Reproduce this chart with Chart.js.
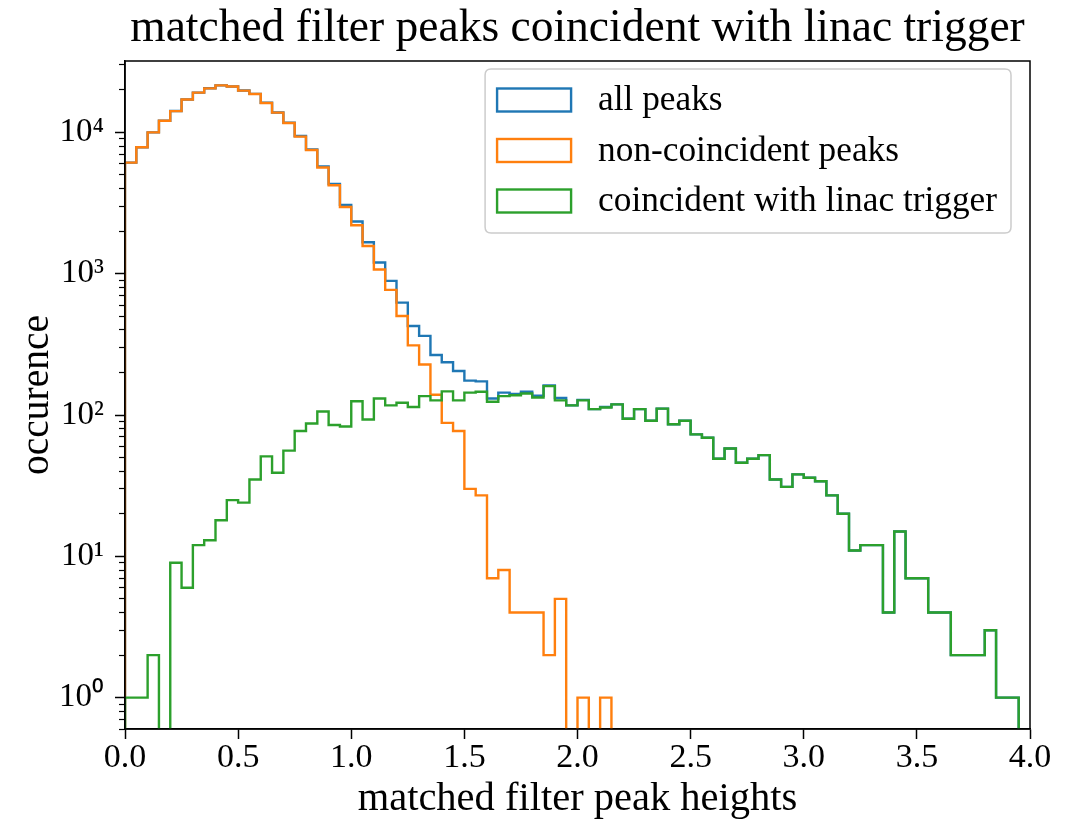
<!DOCTYPE html>
<html>
<head>
<meta charset="utf-8">
<script src="https://cdn.jsdelivr.net/npm/chart.js@4.4.1/dist/chart.umd.min.js"></script>
<style>
html,body{margin:0;padding:0;background:#ffffff;}
#wrap{width:1079px;height:825px;position:relative;}
</style>
</head>
<body>
<div id="wrap"><canvas id="c" width="1079" height="825"></canvas></div>
<script>
// ---- data ----
const binEdges = [0.00,0.05,0.10,0.15,0.20,0.25,0.30,0.35,0.40,0.45,0.50,0.55,0.60,0.65,0.70,0.75,0.80,0.85,0.90,0.95,
  1.00,1.05,1.10,1.15,1.20,1.25,1.30,1.35,1.40,1.45,1.50,1.55,1.60,1.65,1.70,1.75,1.80,1.85,1.90,1.95,
  2.00,2.05,2.10,2.15,2.20,2.25,2.30,2.35,2.40,2.45,2.50,2.55,2.60,2.65,2.70,2.75,2.80,2.85,2.90,2.95,
  3.00,3.05,3.10,3.15,3.20,3.25,3.30,3.35,3.40,3.45,3.50,3.55,3.60,3.65,3.70,3.75,3.80,3.85,3.90,3.95,4.00];

const allPeaks = [6111,7851,10002,12100,14159,17106,19112,20513,21518,21125,
  19774,18735,16201,13839,11706,9417,7587,5746,4315,3070,
  2340,1670,1200,890,624,426,363,266,236,205,
  175,173,131,144,141,146,137,162,132,117,
  128,110,114,119,94,110,91,111,86,91,
  73,69,49,58,46,49,52,35,31,38,
  36,34,27,20,11,12,12,4,15,7,
  7,4,4,2,2,2,3,1,1,0];

const nonCoincident = [6110,7850,10000,12100,14150,17100,19100,20500,21500,21100,
  19750,18700,16150,13800,11650,9340,7500,5640,4230,2965,
  2200,1570,1070,768,502,311,228,139,88,77,
  30,27,7,8,4,4,4,2,5,0,
  1,0,1,0,0,0,0,0,0,0,
  0,0,0,0,0,0,0,0,0,0,
  0,0,0,0,0,0,0,0,0,0,
  0,0,0,0,0,0,0,0,0,0];

const coincidentLinac = [1,1,2,0,9,6,12,13,18,25,
  24,35,51,39,56,77,87,106,85,83,
  125,93,131,117,122,114,136,127,147,127,
  144,146,124,136,138,142,133,160,127,117,
  127,110,113,119,94,110,91,111,86,91,
  73,69,49,58,46,49,52,35,31,38,
  36,34,27,20,11,12,12,4,15,7,
  7,4,4,2,2,2,3,1,1,0];

const seriesLabels = ['all peaks', 'non-coincident peaks', 'coincident with linac trigger'];
const xTickValues = [0.0,0.5,1.0,1.5,2.0,2.5,3.0,3.5,4.0];
const yTickValues = [0.6,0.7,0.8,0.9,1,2,3,4,5,6,7,8,9,10,20,30,40,50,60,70,80,90,
  100,200,300,400,500,600,700,800,900,1000,2000,3000,4000,5000,6000,7000,8000,9000,
  10000,20000,30000];

// ---- helpers ----
const SERIF = "'Liberation Serif', 'Times New Roman', serif";
const COLORS = ['#1f77b4', '#ff7f0e', '#2ca02c'];
const BELOW = 1e-3; // empty bins: drawn below the axis and clipped, like matplotlib

function stepPoints(vals) {
  const n = vals.length;
  const pts = [{x: binEdges[0], y: BELOW}];
  for (let i = 0; i < n; i++) pts.push({x: binEdges[i], y: vals[i] > 0 ? vals[i] : BELOW});
  pts.push({x: binEdges[n], y: vals[n - 1] > 0 ? vals[n - 1] : BELOW});
  pts.push({x: binEdges[n], y: BELOW});
  return pts;
}
const SUP = {'0':'\u2070','1':'\u00b9','2':'\u00b2','3':'\u00b3','4':'\u2074','5':'\u2075','6':'\u2076','7':'\u2077','8':'\u2078','9':'\u2079','-':'\u207b'};
function isDecade(v) { const e = Math.log10(v); return Math.abs(e - Math.round(e)) < 1e-9; }

const seriesValues = [allPeaks, nonCoincident, coincidentLinac];
const datasets = seriesValues.map((vals, i) => ({
  label: seriesLabels[i],
  data: stepPoints(vals),
  stepped: 'before',
  borderColor: COLORS[i],
  backgroundColor: COLORS[i],
  borderWidth: 2.4,
  pointRadius: 0,
  pointHoverRadius: 0,
  fill: false,
  tension: 0,
  borderJoinStyle: 'miter',
  borderCapStyle: 'butt',
  order: 3 - i
}));

const framePlugin = {
  id: 'frame',
  afterDatasetsDraw(chart) {
    const {ctx, chartArea: a} = chart;
    ctx.save();
    ctx.strokeStyle = '#000';
    ctx.lineWidth = 1.5;
    ctx.strokeRect(a.left, a.top, a.right - a.left, a.bottom - a.top);
    ctx.restore();
  }
};

const legendPlugin = {
  id: 'mplLegend',
  afterDatasetsDraw(chart) {
    const {ctx, chartArea: a} = chart;
    const ds = chart.data.datasets;
    ctx.save();
    ctx.font = '35.3px ' + SERIF;
    let maxW = 0;
    ds.forEach(d => { maxW = Math.max(maxW, ctx.measureText(d.label).width); });
    const padL = 12, handleW = 74, handleH = 23, gap = 27, padR = 14;
    const right = a.right - 19;
    const top = a.top + 8;
    const rowH = 50.5;
    const height = 164;
    const left = right - padR - maxW - gap - handleW - padL;
    // box
    const r = 6;
    ctx.beginPath();
    ctx.moveTo(left + r, top);
    ctx.lineTo(right - r, top);
    ctx.quadraticCurveTo(right, top, right, top + r);
    ctx.lineTo(right, top + height - r);
    ctx.quadraticCurveTo(right, top + height, right - r, top + height);
    ctx.lineTo(left + r, top + height);
    ctx.quadraticCurveTo(left, top + height, left, top + height - r);
    ctx.lineTo(left, top + r);
    ctx.quadraticCurveTo(left, top, left + r, top);
    ctx.closePath();
    ctx.fillStyle = 'rgba(255,255,255,0.8)';
    ctx.fill();
    ctx.strokeStyle = '#cccccc';
    ctx.lineWidth = 1.5;
    ctx.stroke();
    // rows
    ds.forEach((d, i) => {
      const yc = top + 31 + i * rowH;
      ctx.strokeStyle = d.borderColor;
      ctx.lineWidth = 2.4;
      ctx.strokeRect(left + padL, yc - handleH / 2, handleW, handleH);
      ctx.fillStyle = '#000';
      ctx.textBaseline = 'middle';
      ctx.textAlign = 'left';
      ctx.fillText(d.label, left + padL + handleW + gap, yc + 1);
    });
    ctx.restore();
  }
};

new Chart(document.getElementById('c'), {
  type: 'line',
  data: { datasets },
  plugins: [framePlugin, legendPlugin],
  options: {
    responsive: false,
    animation: false,
    devicePixelRatio: 1,
    layout: { padding: { left: 0, right: 49, top: 0, bottom: 0 } },
    plugins: {
      legend: { display: false },
      tooltip: { enabled: false },
      title: {
        display: true,
        fullSize: false,
        text: 'matched filter peaks coincident with linac trigger',
        color: '#000',
        font: { family: SERIF, size: 45.5, weight: 'normal', lineHeight: 1.2 },
        padding: { top: 2, bottom: 4.4 }
      }
    },
    scales: {
      x: {
        type: 'linear',
        min: 0, max: 4,
        afterBuildTicks: s => { s.ticks = xTickValues.map(v => ({value: v})); },
        afterFit: s => { s.height = 96; },
        ticks: {
          autoSkip: false, maxRotation: 0, minRotation: 0,
          color: '#000', padding: -1,
          font: { family: SERIF, size: 34 },
          callback: v => Number(v).toFixed(1)
        },
        grid: { drawOnChartArea: false, drawTicks: true, tickLength: 10, tickColor: '#000', tickWidth: 1.5 },
        border: { display: true, color: '#000', width: 1.5 },
        title: {
          display: true, text: 'matched filter peak heights', color: '#000',
          font: { family: SERIF, size: 40.5, lineHeight: 1.2 },
          padding: { top: 0, bottom: 1 }
        }
      },
      y: {
        type: 'logarithmic',
        min: 0.6, max: 32000,
        afterBuildTicks: s => { s.ticks = yTickValues.map(v => ({value: v, major: isDecade(v)})); },
        afterFit: s => { s.width = 125; },
        ticks: {
          autoSkip: false, color: '#000', padding: 11,
          font: { family: SERIF, size: 33 },
          callback: v => isDecade(v) ? '10' + String(Math.round(Math.log10(v))).split('').map(c => SUP[c]).join('') : ''
        },
        grid: {
          drawOnChartArea: false, drawTicks: true, tickLength: 10, tickColor: '#000',
          tickWidth: c => (c.tick && isDecade(c.tick.value)) ? 1.5 : 1.2,
          tickBorderDash: c => (c.tick && isDecade(c.tick.value)) ? [] : [6, 4],
          tickBorderDashOffset: c => (c.tick && isDecade(c.tick.value)) ? 0 : 6
        },
        border: { display: true, color: '#000', width: 1.5 },
        title: {
          display: true, text: 'occurence', color: '#000',
          font: { family: SERIF, size: 39.5, lineHeight: 1.2 },
          padding: { top: 14, bottom: 0 }
        }
      }
    }
  }
});
</script>
</body>
</html>
